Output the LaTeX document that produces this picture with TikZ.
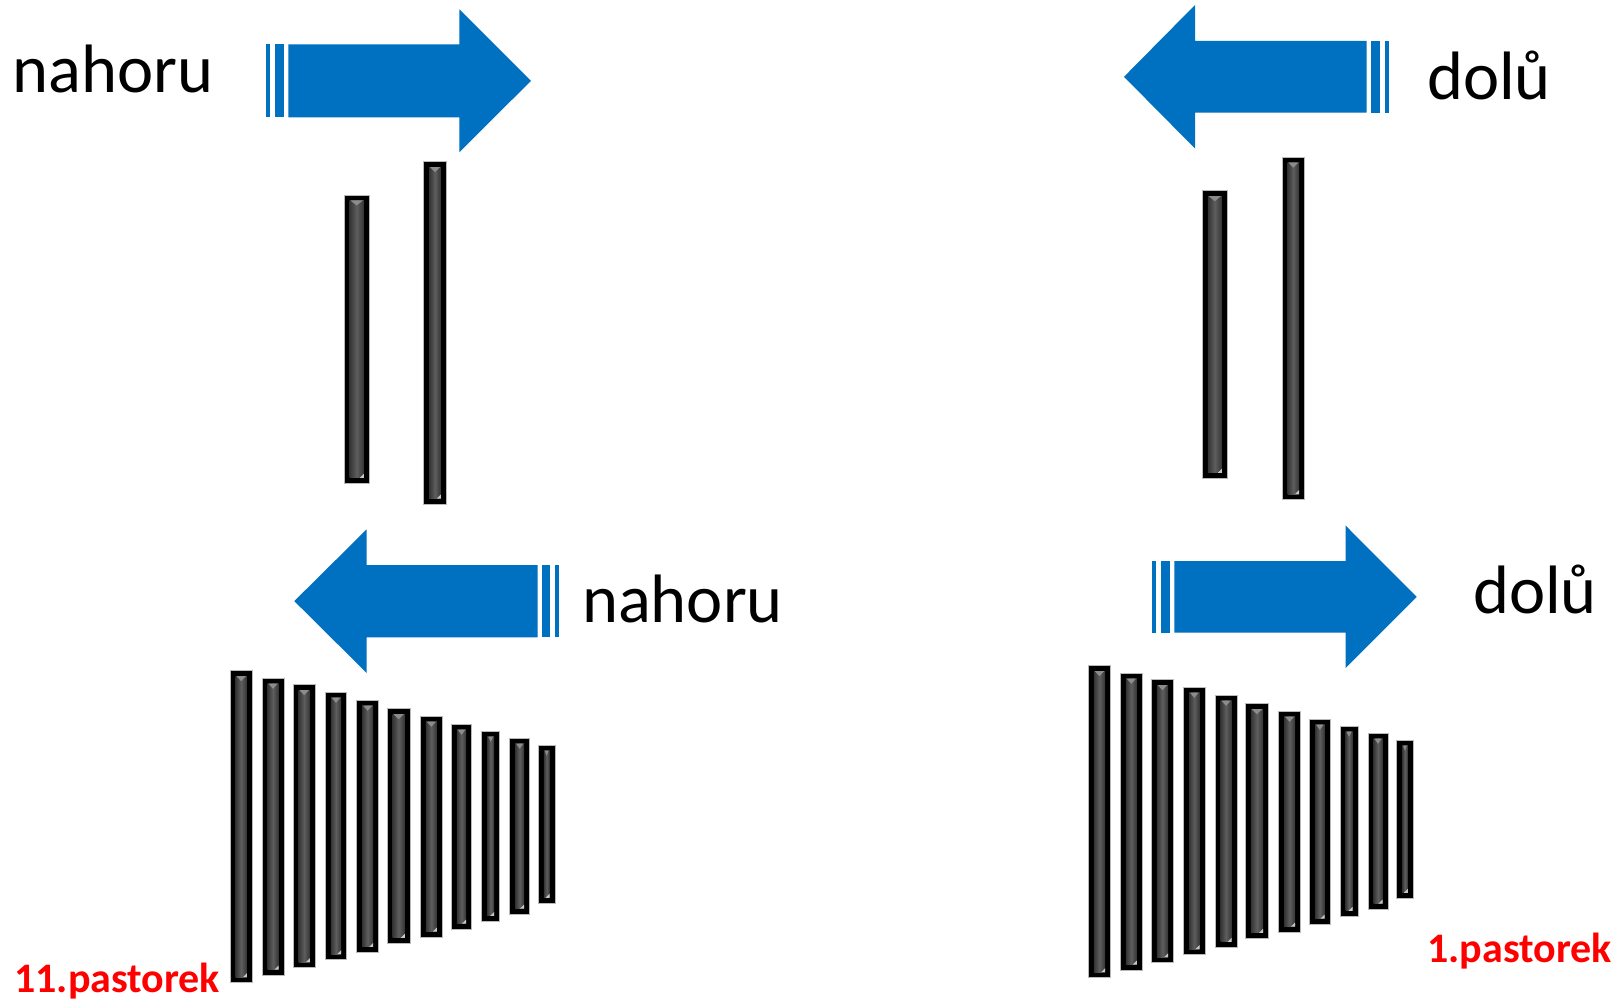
\documentclass[tikz,border=0pt]{standalone}
\usepackage{fontspec}
\setmainfont{Carlito}
\definecolor{arrowblue}{HTML}{0070C0}
\definecolor{coredark}{HTML}{343434}
\definecolor{coremid}{HTML}{5E5E5E}
\definecolor{bevel}{HTML}{8C8C8C}
\tikzset{
  arrowfill/.style={fill=arrowblue, draw=none},
  lbl/.style={font=\fontsize{68.5}{80}\selectfont, inner sep=0pt, anchor=base west},
  redlbl/.style={font=\fontsize{42}{50}\selectfont\bfseries, text=red, inner sep=0pt, anchor=base west},
  barframe/.style={fill=black, draw=gray!55, line width=0.7pt},
  barcore/.style={left color=coredark, right color=coredark, middle color=coremid},
  barbevel/.style={fill=bevel, draw=none},
}
% x1 y1 x2 y2 (pixels, y downwards)
\newcommand\toothbar[4]{%
  \path[barframe] (#1,#2) rectangle (#3,#4);
  \shade[barcore] ({#1+5.5},{#2+5.5}) rectangle ({#3-5.5},{#4-5.5});
  \path[barbevel] ({#1+6.5},{#2+5.5}) -- ({#3-6.5},{#2+5.5}) -- ({(#1+#3)/2},{#2+10.5}) -- cycle;
  \path[fill=gray!45] ({#3-5.5},{#4-5.5}) -- ({#3-5.5},{#4-9.5}) -- ({#3-9.5},{#4-5.5}) -- cycle;
}
\begin{document}
\begin{tikzpicture}[x=1pt,y=-1pt]
\useasboundingbox (0,0) rectangle (1620,1000);
\fill[white] (0,0) rectangle (1620,1000);

% ---- arrows ----
% top left, pointing right
\path[arrowfill] (288.3,44.3) -- (459.3,44.3) -- (459.3,9.3) -- (531,80.8) -- (459.3,152.3) -- (459.3,117.3) -- (288.3,117.3) -- cycle;
\path[arrowfill] (266,44.3) rectangle (270,117.3);
\path[arrowfill] (275,44.3) rectangle (283.7,117.3);
% top right, pointing left
\path[arrowfill] (1366.7,41) -- (1195,41) -- (1195,5) -- (1124,76.8) -- (1195,148.5) -- (1195,112.7) -- (1366.7,112.7) -- cycle;
\path[arrowfill] (1371.3,41) rectangle (1380,112.7);
\path[arrowfill] (1385,41) rectangle (1389,112.7);
% bottom left, pointing left
\path[arrowfill] (537.7,565) -- (366.7,565) -- (366.7,529.3) -- (294.3,601.1) -- (366.7,673) -- (366.7,637.3) -- (537.7,637.3) -- cycle;
\path[arrowfill] (542,565) rectangle (550.3,637.3);
\path[arrowfill] (555.3,565) rectangle (559.3,637.3);
% bottom right, pointing right
\path[arrowfill] (1174.3,561) -- (1345.7,561) -- (1345.7,525.7) -- (1416.7,596.9) -- (1345.7,668) -- (1345.7,632.7) -- (1174.3,632.7) -- cycle;
\path[arrowfill] (1151.7,561) rectangle (1156,632.7);
\path[arrowfill] (1160.7,561) rectangle (1169.7,632.7);

% ---- chainring bars ----
\toothbar{344}{195}{369.3}{483.3}
\toothbar{423.7}{161.7}{446.3}{504}
\toothbar{1202.3}{190.7}{1227.3}{478.3}
\toothbar{1282}{157.2}{1304.6}{499.5}

% ---- cassette bars (left) ----
\foreach \xa/\ya/\xb/\yb in {230/670.7/252.3/982.7, 262/678.3/284/975, 293/684.7/315.3/967.7,
  325.3/692.3/346.7/959.7, 356.7/700.3/378.7/952.3, 387/708.7/410.3/943.3, 420.3/716.3/442.3/937,
  451.3/724.3/471.7/929, 481.7/731.3/499.7/921.3, 509.7/738.3/529.7/914, 538.3/745.3/555/903.3}
{\toothbar{\xa}{\ya}{\xb}{\yb}}
% ---- cassette bars (right) ----
\foreach \xa/\ya/\xb/\yb in {230/670.7/252.3/982.7, 262/678.3/284/975, 293/684.7/315.3/967.7,
  325.3/692.3/346.7/959.7, 356.7/700.3/378.7/952.3, 387/708.7/410.3/943.3, 420.3/716.3/442.3/937,
  451.3/724.3/471.7/929, 481.7/731.3/499.7/921.3, 509.7/738.3/529.7/914, 538.3/745.3/555/903.3}
{\toothbar{\xa+858.3}{\ya-5}{\xb+858.3}{\yb-5}}

% ---- labels ----
\node[lbl] (upL) at (12.4,93) {nahoru};
\node[lbl] (upB) at (582,622) {nahoru};
\node[lbl] (downR) at (1427,100) {dolů};
\node[lbl] (downB) at (1473,613) {dolů};
\node[redlbl] (p11) at (14,992) {11.pastorek};
\node[redlbl] (p1) at (1427,962) {1.pastorek};
\end{tikzpicture}
\end{document}
